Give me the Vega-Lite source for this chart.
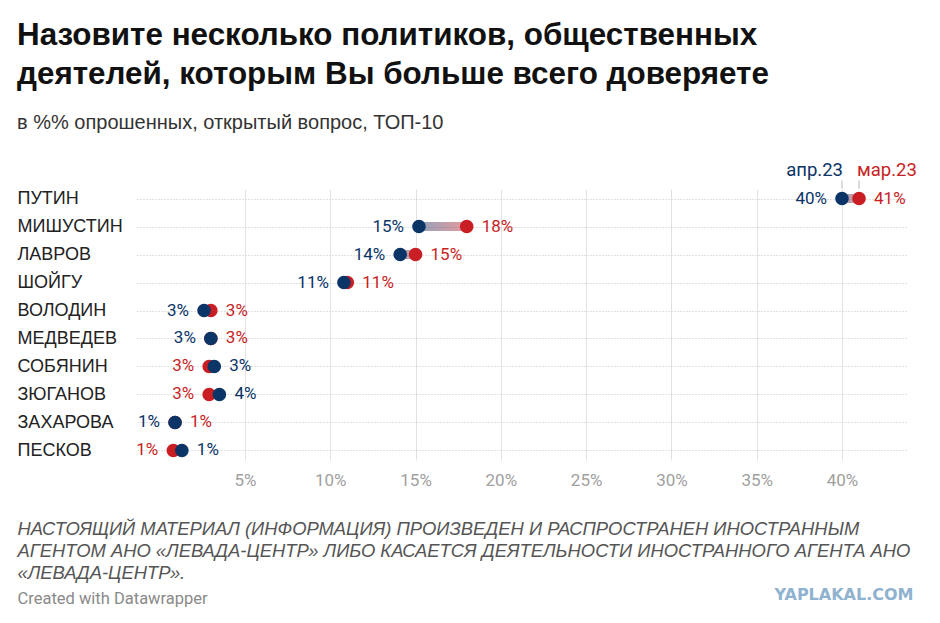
{
  "$schema": "https://vega.github.io/schema/vega-lite/v6.json",
  "width": 771,
  "height": 271,
  "padding": {"left": 17, "top": 20, "right": 0, "bottom": 0},
  "background": "white",
  "config": {"view": {"stroke": null}, "font": "Roboto"},
  "title": {
    "text": ["Назовите несколько политиков, общественных", "деятелей, которым Вы больше всего доверяете"],
    "subtitle": "в %% опрошенных, открытый вопрос, ТОП-10",
    "anchor": "start",
    "frame": "bounds",
    "font": "Liberation Sans",
    "fontSize": 31.4,
    "fontWeight": "bold",
    "color": "#111111",
    "lineHeight": 39,
    "subtitleFont": "Liberation Sans",
    "subtitleFontSize": 20,
    "subtitleColor": "#333333",
    "subtitlePadding": 22,
    "offset": 28
  },
  "data": {
    "values": [
      {"name": "ПУТИН", "month": "мар.23", "value": 0.41},
      {"name": "ПУТИН", "month": "апр.23", "value": 0.40},
      {"name": "МИШУСТИН", "month": "мар.23", "value": 0.18},
      {"name": "МИШУСТИН", "month": "апр.23", "value": 0.152},
      {"name": "ЛАВРОВ", "month": "мар.23", "value": 0.15},
      {"name": "ЛАВРОВ", "month": "апр.23", "value": 0.141},
      {"name": "ШОЙГУ", "month": "мар.23", "value": 0.11},
      {"name": "ШОЙГУ", "month": "апр.23", "value": 0.108},
      {"name": "ВОЛОДИН", "month": "мар.23", "value": 0.030},
      {"name": "ВОЛОДИН", "month": "апр.23", "value": 0.026},
      {"name": "МЕДВЕДЕВ", "month": "мар.23", "value": 0.030},
      {"name": "МЕДВЕДЕВ", "month": "апр.23", "value": 0.030},
      {"name": "СОБЯНИН", "month": "мар.23", "value": 0.029},
      {"name": "СОБЯНИН", "month": "апр.23", "value": 0.032},
      {"name": "ЗЮГАНОВ", "month": "мар.23", "value": 0.029},
      {"name": "ЗЮГАНОВ", "month": "апр.23", "value": 0.035},
      {"name": "ЗАХАРОВА", "month": "мар.23", "value": 0.009},
      {"name": "ЗАХАРОВА", "month": "апр.23", "value": 0.009},
      {"name": "ПЕСКОВ", "month": "мар.23", "value": 0.008},
      {"name": "ПЕСКОВ", "month": "апр.23", "value": 0.013}
    ]
  },
  "transform": [
    {
      "joinaggregate": [
        {"op": "min", "field": "value", "as": "minv"},
        {"op": "max", "field": "value", "as": "maxv"}
      ],
      "groupby": ["name"]
    }
  ],
  "encoding": {
    "y": {
      "field": "name",
      "type": "nominal",
      "sort": ["ПУТИН", "МИШУСТИН", "ЛАВРОВ", "ШОЙГУ", "ВОЛОДИН", "МЕДВЕДЕВ", "СОБЯНИН", "ЗЮГАНОВ", "ЗАХАРОВА", "ПЕСКОВ"],
      "scale": {"type": "point", "padding": 0.34},
      "axis": {
        "title": null,
        "domain": false,
        "ticks": false,
        "grid": true,
        "gridDash": [1, 2],
        "gridColor": "#c4c4c4",
        "labelAlign": "left",
        "labelBaseline": "middle",
        "labelPadding": 120,
        "labelFont": "Liberation Sans",
        "labelFontSize": 18,
        "labelColor": "#222222"
      }
    }
  },
  "resolve": {"axis": {"x": "independent"}},
  "layer": [
    {
      "mark": {
        "type": "bar",
        "size": 9,
        "opacity": 0.45,
        "color": {
          "gradient": "linear",
          "x1": 0, "y1": 0, "x2": 1, "y2": 0,
          "stops": [
            {"offset": 0, "color": "#0b3467"},
            {"offset": 1, "color": "#c81e24"}
          ]
        }
      },
      "encoding": {
        "x": {
          "aggregate": "min",
          "field": "value",
          "type": "quantitative",
          "scale": {"domain": [-0.0133, 0.4387], "nice": false, "zero": false},
          "axis": {
            "orient": "bottom",
            "values": [0.05, 0.1, 0.15, 0.2, 0.25, 0.3, 0.35, 0.4],
            "format": ".0%",
            "domain": false,
            "ticks": false,
            "grid": true,
            "gridColor": "#e2e2e2",
            "labelColor": "#a0a0a0",
            "labelFont": "Roboto",
            "labelFontSize": 17,
            "labelPadding": 12,
            "title": [
              "НАСТОЯЩИЙ МАТЕРИАЛ (ИНФОРМАЦИЯ) ПРОИЗВЕДЕН И РАСПРОСТРАНЕН ИНОСТРАННЫМ",
              "АГЕНТОМ АНО «ЛЕВАДА-ЦЕНТР» ЛИБО КАСАЕТСЯ ДЕЯТЕЛЬНОСТИ ИНОСТРАННОГО АГЕНТА АНО",
              "«ЛЕВАДА-ЦЕНТР»."
            ],
            "titleFont": "Liberation Sans",
            "titleFontStyle": "italic",
            "titleFontWeight": "normal",
            "titleFontSize": 18.4,
            "titleColor": "#555555",
            "titleAlign": "left",
            "titleAnchor": "start",
            "titleBaseline": "alphabetic",
            "titleX": -120,
            "titleY": 74,
            "titleLineHeight": 22
          }
        },
        "x2": {"aggregate": "max", "field": "value"}
      }
    },
    {
      "transform": [{"filter": "datum.month == 'мар.23'"}],
      "mark": {"type": "circle", "size": 185, "opacity": 1},
      "encoding": {
        "x": {
          "field": "value",
          "type": "quantitative",
          "axis": {
            "orient": "bottom",
            "labels": false,
            "ticks": false,
            "domain": false,
            "grid": false,
            "title": "Created with Datawrapper",
            "titleFont": "Roboto",
            "titleFontWeight": "normal",
            "titleFontSize": 16.5,
            "titleColor": "#8a8a8a",
            "titleAlign": "left",
            "titleAnchor": "start",
            "titleBaseline": "alphabetic",
            "titleX": -120,
            "titleY": 143
          }
        },
        "color": {
          "field": "month",
          "type": "nominal",
          "scale": {"domain": ["апр.23", "мар.23"], "range": ["#0b3467", "#c81e24"]},
          "legend": null
        }
      }
    },
    {
      "transform": [{"filter": "datum.month == 'апр.23'"}],
      "mark": {"type": "circle", "size": 185, "opacity": 1},
      "encoding": {
        "x": {
          "field": "value",
          "type": "quantitative",
          "axis": {
            "orient": "bottom",
            "labels": false,
            "ticks": false,
            "domain": false,
            "grid": false,
            "title": "YAPLAKAL.COM",
            "titleFont": "DejaVu Sans",
            "titleFontWeight": "bold",
            "titleFontSize": 16,
            "titleColor": "#8fb2cf",
            "titleAlign": "right",
            "titleAnchor": "end",
            "titleBaseline": "alphabetic",
            "titleX": 776,
            "titleY": 139
          }
        },
        "color": {"field": "month", "type": "nominal", "legend": null}
      }
    },
    {
      "transform": [{"filter": "datum.value < datum.maxv || (datum.minv == datum.maxv && datum.month == 'апр.23')"}],
      "mark": {"type": "text", "align": "right", "baseline": "middle", "dx": -15, "font": "Roboto", "fontSize": 17},
      "encoding": {
        "x": {"field": "value", "type": "quantitative", "axis": null},
        "text": {"field": "value", "type": "quantitative", "format": ".0%"},
        "color": {"field": "month", "type": "nominal", "legend": null}
      }
    },
    {
      "transform": [{"filter": "datum.value > datum.minv || (datum.minv == datum.maxv && datum.month == 'мар.23')"}],
      "mark": {"type": "text", "align": "left", "baseline": "middle", "dx": 15, "font": "Roboto", "fontSize": 17},
      "encoding": {
        "x": {"field": "value", "type": "quantitative", "axis": null},
        "text": {"field": "value", "type": "quantitative", "format": ".0%"},
        "color": {"field": "month", "type": "nominal", "legend": null}
      }
    },
    {
      "transform": [{"filter": "datum.name == 'ПУТИН' && datum.month == 'апр.23'"}],
      "mark": {"type": "text", "align": "right", "baseline": "alphabetic", "dx": 1, "dy": -23, "font": "Roboto", "fontSize": 18.5},
      "encoding": {
        "x": {"field": "value", "type": "quantitative", "axis": null},
        "text": {"field": "month"},
        "color": {"field": "month", "type": "nominal", "legend": null}
      }
    },
    {
      "transform": [{"filter": "datum.name == 'ПУТИН' && datum.month == 'мар.23'"}],
      "mark": {"type": "text", "align": "left", "baseline": "alphabetic", "dx": -2, "dy": -23, "font": "Roboto", "fontSize": 18.5},
      "encoding": {
        "x": {"field": "value", "type": "quantitative", "axis": null},
        "text": {"field": "month"},
        "color": {"field": "month", "type": "nominal", "legend": null}
      }
    },
    {
      "transform": [{"filter": "datum.name == 'ПУТИН'"}],
      "mark": {"type": "tick", "orient": "vertical", "size": 8, "thickness": 1, "color": "#9a9a9a", "yOffset": -14},
      "encoding": {
        "x": {"field": "value", "type": "quantitative", "axis": null}
      }
    }
  ]
}
